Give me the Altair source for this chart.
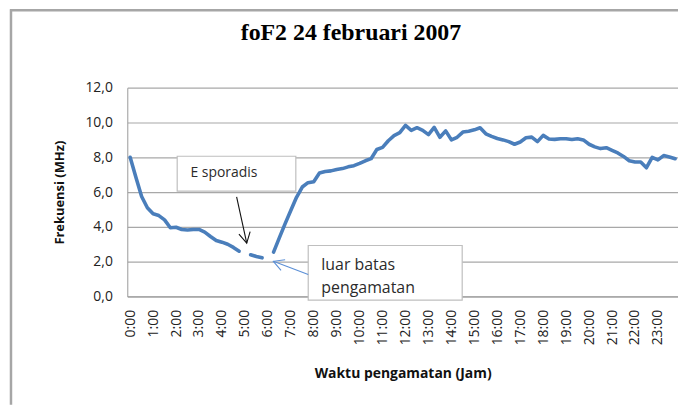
import altair as alt
import pandas as pd

title_text = "foF2 24 februari 2007"
y_title = "Frekuensi (MHz)"
x_title = "Waktu pengamatan  (Jam)"
hour_labels = list(range(24))
y_ticks = [0, 2, 4, 6, 8, 10, 12]

# foF2 (MHz) every 15 minutes, 0:00 ... 23:45 ; None = no reading
fof2 = [
    8.0, 6.85, 5.75, 5.1,     # 0
    4.75, 4.65, 4.4, 3.95,    # 1
    3.98, 3.85, 3.82, 3.85,   # 2
    3.85, 3.7, 3.45, 3.22,    # 3
    3.12, 3.0, 2.82, 2.6,     # 4
    None, 2.4, 2.3, 2.22,     # 5
    None, 2.55, 3.37, 4.17,   # 6
    4.94, 5.7, 6.29, 6.54,    # 7
    6.6, 7.1, 7.18, 7.22,     # 8
    7.3, 7.35, 7.45, 7.52,    # 9
    7.65, 7.8, 7.92, 8.45,    # 10
    8.57, 8.95, 9.25, 9.42,   # 11
    9.83, 9.55, 9.7, 9.55,    # 12
    9.3, 9.72, 9.15, 9.52,    # 13
    9.0, 9.15, 9.45, 9.5,     # 14
    9.58, 9.7, 9.35, 9.2,     # 15
    9.08, 9.0, 8.9, 8.75,     # 16
    8.88, 9.12, 9.16, 8.9,    # 17
    9.26, 9.05, 9.03, 9.07,   # 18
    9.07, 9.02, 9.07, 9.0,    # 19
    8.75, 8.6, 8.5, 8.55,     # 20
    8.4, 8.25, 8.05, 7.8,     # 21
    7.73, 7.73, 7.4, 8.0,     # 22
    7.85, 8.1, 8.02, 7.92,    # 23
]
hours = [i * 0.25 for i in range(len(fof2))]

# annotation boxes (data coordinates)
box_x = [2.05, 7.76]
box_x2 = [7.22, 14.47]
box_y = [8.06, 2.93]
box_y2 = [6.06, -0.21]

note1_text = ["E sporadis"]
note1_x = [2.63]
note1_y = [7.07]

note2_text = ["luar batas", "pengamatan"]
note2_x = [8.33, 8.33]
note2_y = [1.83, 0.5]

# arrows: start -> tip
arr_black = dict(x=4.64, y=5.73, x2=5.08, y2=3.07, angle=347.9)
arr_blue = dict(x=7.76, y=1.26, x2=6.24, y2=2.02, angle=110.8)

rows = []
seg = 0
gap = True
for h, v in zip(hours, fof2):
    if v is None:
        gap = True
        continue
    if gap:
        seg += 1
        gap = False
    rows.append({"jam": h, "fof2": v, "seg": seg})
df = pd.DataFrame(rows)

xs = alt.Scale(domain=[-0.125, 23.875], nice=False, zero=False)
ys = alt.Scale(domain=[0, 12], nice=False)
W, H = 554, 210

x_axis = alt.Axis(
    values=hour_labels, labelExpr="datum.value + ':00'", labelAngle=-90,
    grid=False, ticks=False, labelPadding=13, domainColor="#9a9a9a",
    title=x_title, titleX=W / 2, titleY=78, titleBaseline="middle",
    titleFontSize=14, labelFontSize=14, labelOverlap=False, labelFlush=False,
)
y_axis = alt.Axis(
    values=y_ticks, labelExpr="replace(format(datum.value, '.1f'), '.', ',')",
    grid=True, gridColor="#a8a8a8", gridWidth=1.2, ticks=False, labelPadding=15,
    domainColor="#9a9a9a", title=y_title, titleX=-68, titleY=H / 2,
    titleBaseline="middle", titleAngle=-90, titleFontSize=13, labelFontSize=14,
    labelOverlap=False,
)


def X(f):
    return alt.X(f, scale=xs, axis=x_axis)


def Y(f):
    return alt.Y(f, scale=ys, axis=y_axis)


line = alt.Chart(df).mark_line(
    color="#4a7ebb", strokeWidth=3.6, strokeCap="round", strokeJoin="round"
).encode(x=X("jam:Q"), y=Y("fof2:Q"), detail="seg:N")

boxes = alt.Chart(pd.DataFrame({"x": box_x, "x2": box_x2, "y": box_y, "y2": box_y2})).mark_rect(
    fill="white", stroke="#bfbfbf", strokeWidth=1.2
).encode(x=X("x:Q"), x2="x2:Q", y=Y("y:Q"), y2="y2:Q")

note1 = alt.Chart(pd.DataFrame({"t": note1_text, "x": note1_x, "y": note1_y})).mark_text(
    align="left", baseline="middle", font="Open Sans", fontSize=14, color="#2b2b2b"
).encode(x=X("x:Q"), y=Y("y:Q"), text="t:N")

note2 = alt.Chart(pd.DataFrame({"t": note2_text, "x": note2_x, "y": note2_y})).mark_text(
    align="left", baseline="middle", font="Open Sans", fontSize=16, color="#2b2b2b"
).encode(x=X("x:Q"), y=Y("y:Q"), text="t:N")

arrows_df = pd.DataFrame([
    {**arr_black, "c": "black"},
    {**arr_blue, "c": "blue"},
])
arrow_color = alt.Color("c:N", scale=alt.Scale(domain=["black", "blue"], range=["#111111", "#5b8fd6"]), legend=None)
arrow_lines = alt.Chart(arrows_df).mark_rule(strokeWidth=1.1).encode(
    x=X("x:Q"), y=Y("y:Q"), x2="x2:Q", y2="y2:Q", color=arrow_color,
)
arrow_heads = alt.Chart(arrows_df).mark_point(
    shape="M-0.55,-1L0,0L0.55,-1", filled=False, strokeWidth=1.1, size=440, opacity=1
).encode(
    x=X("x2:Q"), y=Y("y2:Q"),
    angle=alt.Angle("angle:Q", scale=None),
    color=arrow_color,
)

one = pd.DataFrame({"a": [0]})
title = alt.Chart(one).mark_text(
    font="Liberation Serif", fontSize=24, fontWeight="bold", color="black",
    align="center", baseline="alphabetic",
).encode(x=alt.value(225), y=alt.value(-48.5), text=alt.value(title_text))

border_left = alt.Chart(one).mark_rule(color="#a6a6a6", strokeWidth=2.5).encode(
    x=alt.value(-117), y=alt.value(-79), y2=alt.value(319))
border_top = alt.Chart(one).mark_rule(color="#a6a6a6", strokeWidth=2.5).encode(
    x=alt.value(-118), x2=alt.value(W), y=alt.value(-78))

chart = alt.layer(
    line, boxes, note1, note2, arrow_lines, arrow_heads, title, border_left, border_top
).properties(
    width=W, height=H,
    autosize=alt.AutoSizeParams(type="none"),
    padding={"left": 120, "top": 79, "right": 0, "bottom": 109},
).configure_view(stroke=None).configure_axis(
    labelFont="Open Sans", titleFont="Open Sans", labelColor="#222222",
    titleColor="#111111", titleFontWeight="bold", labelOverlap=False,
)

chart.save("out.html", embed_options={"renderer": "svg", "actions": False})
